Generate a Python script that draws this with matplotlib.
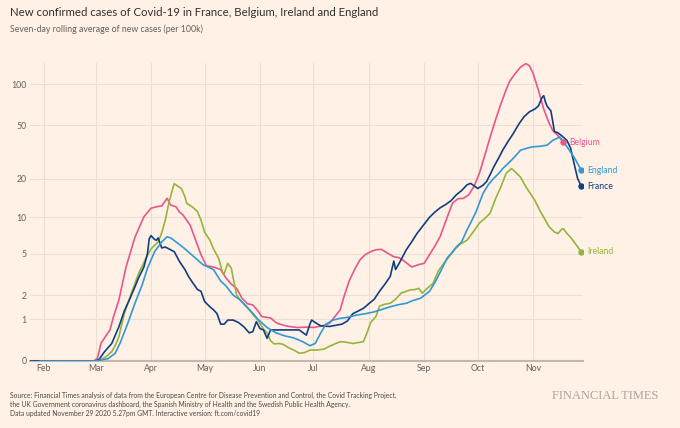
import numpy as np
import pandas as pd
import matplotlib
matplotlib.use('Agg')
import matplotlib.pyplot as plt
import matplotlib.dates as mdates

plt.rcParams['font.family'] = ['Lato', 'DejaVu Sans']

# days counted from 1 Feb 2020, values = 7-day avg of new cases per 100k
start = pd.Timestamp('2020-02-01')

belgium_day = [0, 28, 30, 32, 37, 39, 42, 46, 51, 56, 60, 64, 66, 69, 71, 74, 76, 78, 82, 85,
               88, 91, 95, 99, 102, 105, 108, 111, 114, 117, 120, 122, 127, 130, 132, 137, 142,
               147, 151, 156, 160, 163, 166, 168, 171, 174, 177, 180, 183, 186, 189, 192, 196,
               199, 201, 206, 210, 213, 216, 219, 222, 226, 229, 232, 235, 238, 241, 244, 247,
               250, 253, 256, 259, 261, 264, 267, 270, 272, 274, 277, 280, 283, 285, 288, 291]
belgium_val = [0, 0, 0.05, 0.35, 0.68, 1.1, 1.77, 3.8, 6.9, 10.1, 11.8, 12.2, 12.3, 14.1, 12.5,
               12.1, 11.0, 10.4, 8.6, 6.5, 4.9, 3.9, 3.8, 3.6, 3.0, 2.6, 2.35, 1.85, 1.6, 1.55,
               1.3, 1.1, 1.05, 0.9, 0.85, 0.78, 0.75, 0.76, 0.75, 0.8, 0.88, 1.1, 1.35, 1.9,
               2.8, 3.6, 4.4, 4.9, 5.2, 5.4, 5.45, 5.1, 4.7, 4.6, 4.4, 3.8, 4.0, 4.1, 4.9, 5.8,
               7.0, 10.1, 13.0, 14.0, 14.1, 15.0, 17.5, 22, 30, 41, 55, 72, 92, 106, 120, 134,
               142, 137, 121, 91, 66, 52, 46, 42, 37.5]

france_day = [-8, 29, 31, 34, 38, 42, 45, 48, 51, 53, 56, 58, 59, 60, 62, 63, 64, 66, 68, 70,
              73, 76, 79, 81, 83, 86, 88, 90, 93, 95, 97, 99, 101, 103, 106, 109, 112, 115, 117,
              119, 121, 123, 125, 127, 132, 137, 143, 147, 149, 150, 152, 155, 160, 164, 167,
              170, 173, 176, 179, 182, 185, 188, 191, 194, 196, 197, 199, 203, 206, 209, 213,
              216, 219, 222, 225, 228, 231, 234, 237, 239, 241, 243, 246, 248, 250, 252, 255,
              257, 260, 263, 266, 269, 272, 275, 277, 279, 280, 281, 282, 284, 285, 286, 288,
              290, 293, 295, 297, 299, 301]
france_val = [0, 0, 0.03, 0.17, 0.34, 0.77, 1.3, 1.8, 2.45, 3.0, 3.8, 5.0, 6.7, 7.1, 6.6, 6.5,
              6.8, 5.6, 5.7, 5.5, 5.2, 4.25, 3.6, 3.1, 2.75, 2.3, 2.2, 1.7, 1.47, 1.35, 1.2,
              0.85, 0.85, 0.98, 0.98, 0.9, 0.77, 0.6, 0.63, 0.93, 0.72, 0.68, 0.46, 0.68, 0.68,
              0.68, 0.68, 0.54, 0.85, 0.98, 0.9, 0.8, 0.78, 0.82, 0.85, 0.95, 1.2, 1.3, 1.41,
              1.6, 1.8, 2.2, 2.6, 3.1, 4.3, 3.6, 4.1, 5.4, 6.3, 7.4, 8.8, 10.0, 11.0, 11.9,
              12.6, 13.5, 15.0, 16.2, 17.9, 18.4, 17.6, 16.8, 17.8, 19.0, 21.5, 24.5, 29, 32.7,
              38, 43.7, 51, 58, 63, 66, 69.4, 80, 82.7, 74, 69, 64, 54, 45, 44, 42, 38.7, 34,
              26, 20, 17.5]

england_day = [-2, 29, 36, 40, 43, 47, 51, 55, 58, 62, 66, 69, 71, 74, 79, 84, 89, 95, 99, 102,
               106, 110, 114, 117, 120, 125, 130, 135, 140, 145, 149, 152, 155, 158, 162, 166,
               170, 175, 180, 185, 190, 194, 198, 203, 207, 211, 216, 219, 222, 226, 229, 231,
               234, 237, 240, 242, 246, 249, 252, 255, 257, 260, 263, 267, 271, 274, 278, 282,
               285, 289, 291, 293, 297, 301]
england_val = [0, 0, 0.04, 0.14, 0.38, 0.88, 1.62, 2.55, 3.7, 5.2, 6.3, 6.95, 6.8, 6.3, 5.5,
               4.7, 4.0, 3.6, 2.8, 2.5, 2.0, 1.77, 1.45, 1.22, 1.0, 0.75, 0.6, 0.52, 0.47, 0.38,
               0.29, 0.34, 0.59, 0.85, 0.98, 1.04, 1.07, 1.15, 1.2, 1.27, 1.38, 1.47, 1.55, 1.62,
               1.75, 1.85, 2.2, 2.7, 3.4, 4.6, 5.2, 5.7, 6.3, 7.9, 9.6, 11, 15.4, 18, 20.1, 22,
               23.8, 26, 28.5, 32.7, 34, 34.7, 35, 35.7, 38.7, 41, 38, 34.7, 29, 23.2]

ireland_day = [0, 30, 32, 35, 38, 40, 42, 45, 49, 53, 57, 60, 64, 66, 68, 70, 72, 73, 75, 77,
               79, 80, 82, 84, 86, 88, 90, 93, 95, 98, 100, 101, 103, 105, 106, 108, 110, 113,
               115, 118, 120, 123, 125, 127, 129, 132, 134, 137, 140, 143, 146, 149, 153, 157,
               160, 163, 166, 169, 173, 176, 179, 181, 183, 186, 188, 191, 194, 197, 200, 203,
               205, 208, 210, 212, 214, 218, 221, 224, 227, 230, 233, 237, 241, 244, 247, 250,
               253, 256, 259, 262, 264, 267, 270, 273, 275, 278, 280, 283, 286, 288, 290, 291,
               293, 295, 298, 301]
ireland_val = [0, 0, 0.02, 0.08, 0.17, 0.3, 0.5, 1.2, 2.1, 3.3, 4.5, 5.5, 6.3, 7.5, 9.5, 13.0,
               16.5, 18.3, 17.5, 16.8, 14.5, 12.9, 12.4, 11.8, 11.1, 9.5, 7.6, 6.5, 5.5, 4.5,
               3.4, 3.3, 4.1, 3.7, 3.0, 2.0, 1.75, 1.5, 1.35, 1.1, 0.98, 0.7, 0.6, 0.4, 0.33,
               0.34, 0.32, 0.25, 0.2, 0.14, 0.15, 0.2, 0.2, 0.22, 0.28, 0.33, 0.38, 0.37, 0.34,
               0.36, 0.38, 0.6, 0.9, 1.1, 1.5, 1.58, 1.62, 1.8, 2.1, 2.2, 2.27, 2.3, 2.36, 2.1,
               2.3, 2.66, 3.5, 4.1, 4.7, 5.4, 6.0, 6.5, 7.8, 9.0, 9.8, 10.8, 14, 17.3, 22, 23.8,
               22.5, 20.5, 17.3, 15, 13.6, 11.2, 10.0, 8.4, 7.6, 7.4, 8.0, 8.1, 7.4, 6.9, 6.0,
               5.2]

y_ticks = [0, 1, 2, 5, 10, 20, 50, 100]

bg = '#fff1e5'
grid_col = '#ebdfd4'
text_col = '#66605c'

# drawing order: last one on top
series = [
    ('Belgium', belgium_day, belgium_val, '#e9568b'),
    ('Ireland', ireland_day, ireland_val, '#96b43c'),
    ('France', france_day, france_val, '#0f3f82'),
    ('England', england_day, england_val, '#3398d3'),
]


def to_dates(days):
    return start + pd.to_timedelta(np.array(days), unit='D')


fig = plt.figure(figsize=(6.8, 4.28), dpi=100)
fig.patch.set_facecolor(bg)
ax = fig.add_axes([30 / 680, 1 - 361 / 428, 553 / 680, 298 / 428])
ax.set_facecolor(bg)

# y axis is log10(x+1)
ax.set_yscale('function', functions=(lambda v: np.log10(np.maximum(v, 0) + 1),
                                     lambda y: 10 ** y - 1))
ax.set_ylim(0, 143.5)
ax.set_xlim(start - pd.Timedelta(days=7.8), start + pd.Timedelta(days=302))

for name, days, vals, col in series:
    x = to_dates(days)
    ax.plot(x, vals, color=col, lw=1.2, solid_joinstyle='round', zorder=3)
    ax.plot(x[-1], vals[-1], 'o', color=col, ms=3.6, zorder=4)
    ax.annotate(name, xy=(x[-1], vals[-1]), xytext=(4.5, 0), textcoords='offset points',
                va='center', ha='left', fontsize=6.2, color=col, annotation_clip=False)

ax.set_yticks(y_ticks)
ax.set_yticklabels([str(t) for t in y_ticks])
months = pd.date_range('2020-02-01', '2020-11-01', freq='MS')
ax.set_xticks(months)
ax.xaxis.set_major_formatter(mdates.DateFormatter('%b'))

ax.grid(True, color=grid_col, lw=0.8, zorder=0)
ax.tick_params(length=0, labelsize=6.3, labelcolor=text_col)
ax.tick_params(axis='y', pad=2.5)
ax.tick_params(axis='x', pad=2)
for s in ['top', 'right', 'left']:
    ax.spines[s].set_visible(False)
ax.spines['bottom'].set_color('#c2b8ae')
ax.spines['bottom'].set_linewidth(1.5)

fig.text(10 / 680, 1 - 13 / 428, 'New confirmed cases of Covid-19 in France, Belgium, Ireland and England',
         fontsize=8.2, color='#33302e', va='center', ha='left')
fig.text(10 / 680, 1 - 29 / 428, 'Seven-day rolling average of new cases (per 100k)',
         fontsize=6.3, color=text_col, va='center', ha='left')

source = ('Source: Financial Times analysis of data from the European Centre for Disease Prevention and Control, the Covid Tracking Project,\n'
          'the UK Government coronavirus dashboard, the Spanish Ministry of Health and the Swedish Public Health Agency.\n'
          'Data updated November 29 2020 5.27pm GMT. Interactive version: ft.com/covid19')
fig.text(10 / 680, 1 - 392 / 428, source, fontsize=4.85, color='#4d4845', va='top', ha='left',
         linespacing=1.3)
fig.text(658 / 680, 1 - 396 / 428, 'FINANCIAL TIMES', fontsize=8.9, color='#aaa39d',
         family='Liberation Serif', va='center', ha='right')

fig.savefig('out.png', dpi=100, facecolor=bg)
